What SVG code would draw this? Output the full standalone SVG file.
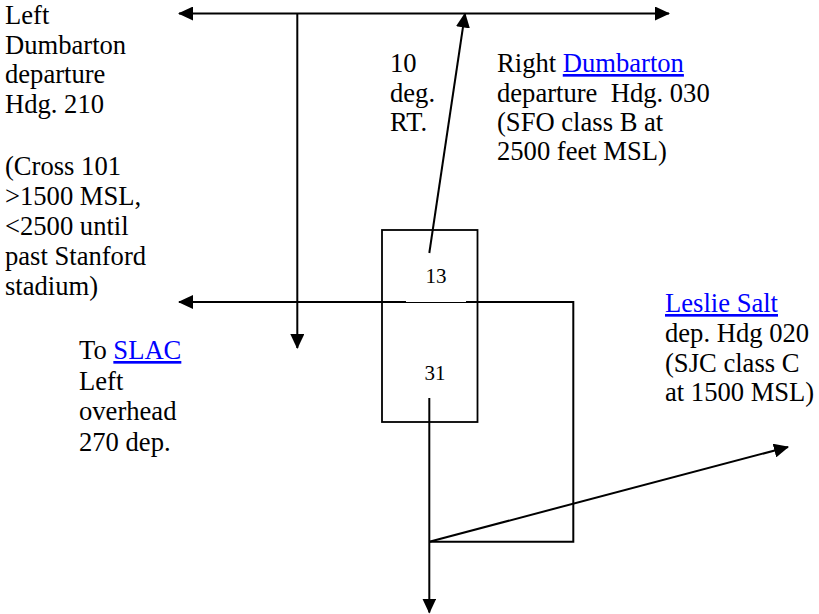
<svg xmlns="http://www.w3.org/2000/svg" width="819" height="614" viewBox="0 0 819 614">
<style>
  text { font-family: "Liberation Serif", "Times New Roman", serif; font-size: 26.6px; fill: #000; }
  .rw { font-size: 21px; text-anchor: middle; }
  .link { fill: #0000FF; text-decoration: underline; }
  .ln { stroke: #000; stroke-width: 2; fill: none; }
  .thin { stroke: #000; stroke-width: 1; fill: none; }
  .arr { marker-end: url(#ah); }
</style>
<defs>
  <marker id="ah" markerUnits="userSpaceOnUse" viewBox="0 0 15 14" markerWidth="15" markerHeight="14" refX="14" refY="7" orient="auto-start-reverse">
    <path d="M0,0 L15,7 L0,14 Z" fill="#000"/>
  </marker>
</defs>
<rect width="819" height="614" fill="#fff"/>

<g id="runway">
  <rect x="382" y="230" width="95.5" height="192" fill="none" stroke="#000" stroke-width="1.8"/>
  <text class="rw" x="436" y="283">13</text>
  <text class="rw" x="435" y="380">31</text>
</g>

<g id="connectors">
  <line class="ln" x1="179" y1="13.5" x2="669" y2="13.5" marker-start="url(#ah)" marker-end="url(#ah)"/>
  <line class="ln arr" x1="297.3" y1="13.5" x2="297.3" y2="348"/>
  <line class="ln arr" x1="429.3" y1="253" x2="465" y2="13.5"/>
  <line class="ln" x1="406" y1="302" x2="179" y2="302" marker-end="url(#ah)"/>
  <line class="thin" x1="406" y1="302.5" x2="466" y2="302.5"/>
  <polyline class="ln" points="466,302 573.3,302 573.3,541.7 429.3,541.7"/>
  <line class="ln arr" x1="429.3" y1="398" x2="429.3" y2="612.5"/>
  <line class="ln arr" x1="429.3" y1="541.7" x2="788" y2="447"/>
</g>

<g id="label-left-dumbarton">
  <text x="5" y="24">Left</text>
  <text x="5" y="54">Dumbarton</text>
  <text x="5" y="83">departure</text>
  <text x="5" y="113">Hdg. 210</text>
  <text x="5" y="175">(Cross 101</text>
  <text x="5" y="205">&gt;1500 MSL,</text>
  <text x="5" y="235">&lt;2500 until</text>
  <text x="5" y="265">past Stanford</text>
  <text x="5" y="295">stadium)</text>
</g>

<g id="label-10deg">
  <text x="390" y="72">10</text>
  <text x="390" y="102">deg.</text>
  <text x="390" y="131">RT.</text>
</g>

<g id="label-right-dumbarton">
  <text x="497" y="72">Right <tspan class="link">Dumbarton</tspan></text>
  <text x="497" y="102">departure&#160; Hdg. 030</text>
  <text x="497" y="131">(SFO class B at</text>
  <text x="497" y="160">2500 feet MSL)</text>
</g>

<g id="label-slac">
  <text x="79" y="359">To <tspan class="link">SLAC</tspan></text>
  <text x="79" y="390">Left</text>
  <text x="79" y="420">overhead</text>
  <text x="79" y="451">270 dep.</text>
</g>

<g id="label-leslie">
  <text x="665" y="312"><tspan class="link">Leslie Salt</tspan></text>
  <text x="665" y="342">dep. Hdg 020</text>
  <text x="665" y="372">(SJC class C</text>
  <text x="665" y="401">at 1500 MSL)</text>
</g>
</svg>
